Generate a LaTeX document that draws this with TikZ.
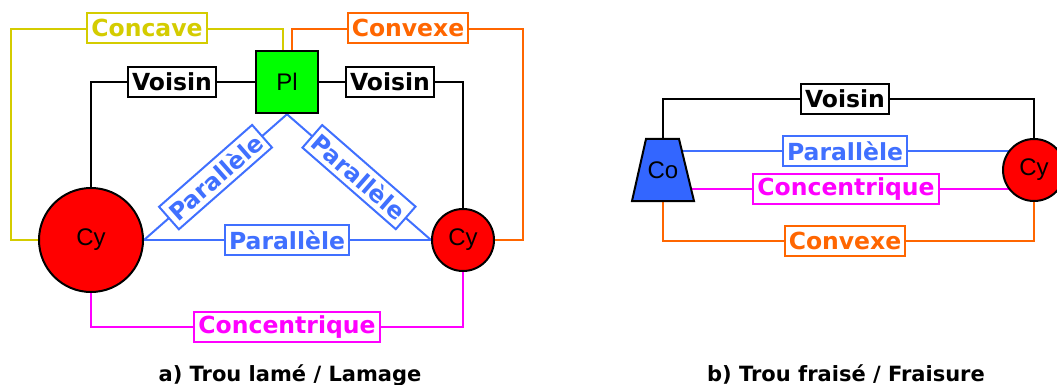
\documentclass[tikz,border=0pt]{standalone}
\usepackage{fontspec}
\setmainfont{DejaVu Sans}
\newfontfamily\arialf{Liberation Sans}
\usetikzlibrary{backgrounds}
\definecolor{cgreen}{HTML}{00FF00}
\definecolor{cred}{HTML}{FF0000}
\definecolor{cyel}{HTML}{D4CC00}
\definecolor{corange}{HTML}{FF6600}
\definecolor{cmag}{HTML}{FF00FF}
\definecolor{cblue}{HTML}{4070FF}
\definecolor{cco}{HTML}{3366FF}
\begin{document}
\begin{tikzpicture}[x=1pt,y=-1pt,
  lbl/.style={draw=#1, text=#1, fill=white, line width=2pt,
    font=\bfseries\fontsize{23.5}{27}\selectfont, inner xsep=4pt, inner ysep=0pt,
    minimum height=30pt},
  ln/.style={line width=2pt, draw=#1},
  cyl/.style={circle, draw=black, fill=cred, line width=2pt,
    font=\arialf\fontsize{24}{28}\selectfont, inner sep=0pt, minimum size=#1},
  captxt/.style={font=\bfseries\fontsize{21}{25}\selectfont, anchor=base, inner sep=0pt},
]
\useasboundingbox (0,0) rectangle (1057,385);

% ---------- left diagram ----------
\node[cyl=104pt] (cy1) at (91,240) {Cy};
\node[cyl=62pt] (cy2) at (463,240) {Cy};
\node[draw=black, fill=cgreen, line width=2.5pt, minimum size=62pt, inner sep=0pt,
  font=\arialf\fontsize{24}{28}\selectfont] (pl) at (287,82) {Pl};

\coordinate (ccTL) at (11,29);
\coordinate (cxTR) at (523,29);
\coordinate (cbot) at (287,327);

\begin{pgfonlayer}{background}
  \draw[ln=cyel] (cy1.west) -| (ccTL) -| ([xshift=-4pt]pl.north);
  \draw[ln=corange] ([xshift=5pt]pl.north) |- (cxTR) |- (cy2.east);
  \draw[ln=black] (pl.west) -| (cy1.north);
  \draw[ln=black] (pl.east) -| (cy2.north);
  \draw[ln=cmag] (cy1.south) |- (cbot) -| (cy2.south);
  \draw[ln=cblue] (cy1.east) -- (cy2.west);
  \draw[ln=cblue] (pl.south) -- node[lbl=cblue, sloped] (pd1) {Parallèle} (cy1.east);
  \draw[ln=cblue] (pl.south) -- node[lbl=cblue, sloped] (pd2) {Parallèle} (cy2.west);
\end{pgfonlayer}

\node[lbl=cyel] (lcc) at (147,28) {Concave};
\node[lbl=corange] (lcx) at (408,28) {Convexe};
\node[lbl=black] (lv1) at (172,82) {Voisin};
\node[lbl=black] (lv2) at (390,82) {Voisin};
\node[lbl=cblue] (lp) at (287,240) {Parallèle};
\node[lbl=cmag] (lcn) at (287,327) {Concentrique};

% ---------- right diagram ----------
\draw[fill=cco, line width=2pt, line join=miter] (646,139) -- (679,139) -- (694,201) -- (632,201) -- cycle;
\node[minimum width=62pt, minimum height=62pt, inner sep=0pt,
  font=\arialf\fontsize{24}{28}\selectfont] (co) at (663,170) {Co};
\node[cyl=62pt] (cy3) at (1034,170) {Cy};

\begin{pgfonlayer}{background}
  \draw[ln=black] (co.north) -- ++(0,-40) -| (cy3.north);
  \draw[ln=corange] (co.south) -- ++(0,40) -| (cy3.south);
  \draw[ln=cblue] ([yshift=19pt]co.center) -- ([yshift=19pt]cy3.center);
  \draw[ln=cmag] ([yshift=-19pt]co.center) -- ([yshift=-19pt]cy3.center);
\end{pgfonlayer}

\node[lbl=black] (rv) at (845,99) {Voisin};
\node[lbl=cblue] (rp) at (845,151) {Parallèle};
\node[lbl=cmag] (rc) at (846,189) {Concentrique};
\node[lbl=corange] (rx) at (845,241) {Convexe};

% ---------- captions ----------
\node[captxt] (capa) at (290,381) {a) Trou lamé / Lamage};
\node[captxt] (capb) at (846,381) {b) Trou fraisé / Fraisure};
\end{tikzpicture}
\end{document}
